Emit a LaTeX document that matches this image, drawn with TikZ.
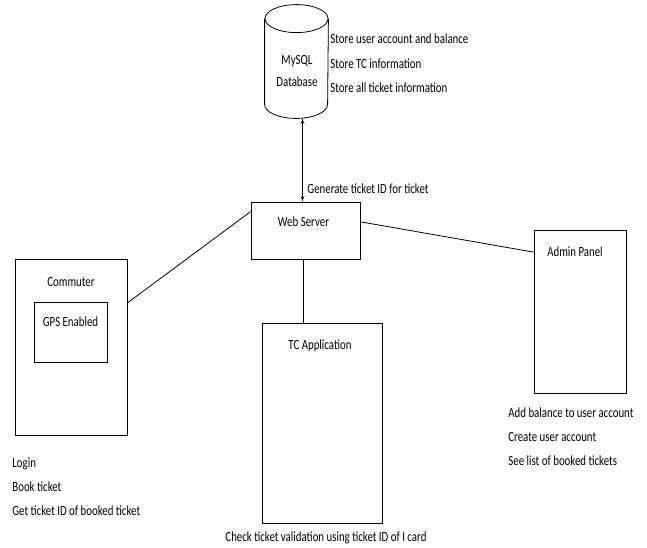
\documentclass[tikz,border=0pt]{standalone}
\usepackage{fontspec}
\setmainfont[FakeStretch=0.775]{Carlito}
\usepackage{tikz}
\usetikzlibrary{arrows}
\usetikzlibrary{positioning}
\tikzset{box/.style = {draw, line width=0.8pt, inner sep=0pt},
         txt/.style = {inner sep=0pt, text height=9pt, text depth=0pt,
                       font=\fontsize{14}{24}\selectfont}}

\begin{document}
\begin{tikzpicture}[x=1pt, y=-1pt, line width=0.8pt]
    \useasboundingbox (0,0) rectangle (647,547);

    % database
    \node [inner sep=0pt, minimum width=63pt, minimum height=113pt] (db) at (296.5, 61.5) {};
    \draw ([yshift=-14pt]db.north west) -- ([yshift=14pt]db.south west)
          arc [start angle=180, end angle=360, x radius=31.5pt, y radius=14pt]
          -- ([yshift=-14pt]db.north east);
    \draw ([yshift=-14pt]db.north) ellipse [x radius=31.5pt, y radius=14pt];
    \node [txt] (dbname) at (297, 60) {MySQL};
    \node [txt] (dbtype) at (297, 82) {Database};
    \foreach \line [count=\i] in {Store user account and balance,
                                  Store TC information,
                                  Store all ticket information} {
      \node [txt, anchor=west] (dbnote\i) at (330, 14.5 + 24.5 * \i) {\line};
    };

    % boxes
    \node [box, minimum width=109pt, minimum height=57pt] (web) at (305.5, 230.5) {};
    \node [box, minimum width=112pt, minimum height=176pt] (comm) at (71, 347) {};
    \node [box, minimum width=73pt, minimum height=60pt] (gps) at (70.5, 332) {};
    \node [box, minimum width=120pt, minimum height=200pt] (tc) at (322, 423) {};
    \node [box, minimum width=92pt, minimum height=163pt] (admin) at (580, 311.5) {};

    \node [txt, below=15.5pt of web.north, xshift=-2pt] (webname) {Web Server};
    \node [txt, below=18.5pt of comm.north] (commname) {Commuter};
    \node [txt, below=15.5pt of gps.north] (gpsname) {GPS Enabled};
    \node [txt, below=17.5pt of tc.north, xshift=-2pt] (tcname) {TC Application};
    \node [txt, below=17.5pt of admin.north, xshift=-5pt] (adminname) {Admin Panel};

    % notes
    \node [txt, anchor=west] (gen) at (307, 189) {Generate ticket ID for ticket};
    \foreach \line [count=\i] in {Login, Book ticket, Get ticket ID of booked ticket} {
      \node [txt, anchor=west] (commnote\i) at (12, 439 + 24 * \i) {\line};
    };
    \foreach \line [count=\i] in {Add balance to user account, Create user account,
                                  See list of booked tickets} {
      \node [txt, anchor=west] (adminnote\i) at (508, 389 + 24 * \i) {\line};
    };
    \node [txt] (tcnote) at (326, 537) {Check ticket validation using ticket ID of I card};

    % connectors
    \draw [latex'-latex'] ([xshift=-3pt]web.north |- db.south) -- ([xshift=-3pt]web.north);
    \draw ([xshift=-2.5pt]web.south) -- ([xshift=-2.5pt]web.south |- tc.north);
    \draw (web.161) -- (comm.38);
    \draw (web.9) -- (admin.128);
\end{tikzpicture}
\end{document}
